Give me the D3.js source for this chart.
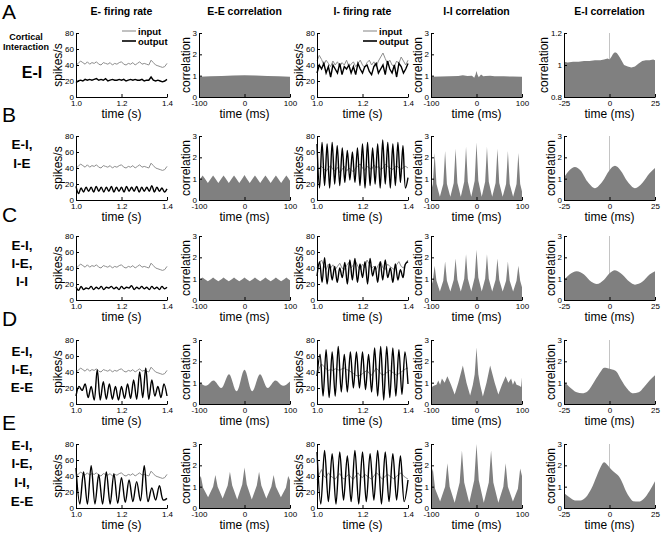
<!DOCTYPE html>
<html><head><meta charset="utf-8">
<script src="https://cdn.jsdelivr.net/npm/d3@7"></script>
<style>
body{margin:0;background:#fff;}
svg text{font-family:"Liberation Sans",Arial,sans-serif;}
</style></head><body>
<svg id="fig" width="661" height="533"></svg>
<script>
// ---------- labels & ticks ----------
const rowLetters = ["A","B","C","D","E"];
const colTitles = ["E- firing rate","E-E correlation","I- firing rate","I-I correlation","E-I correlation"];
const sideLabels = [["E-I"],["E-I,","I-E"],["E-I,","I-E,","I-I"],["E-I,","I-E,","E-E"],["E-I,","I-E,","I-I,","E-E"]];
const legendLabels = ["input","output"];
const rateTicks = [0,20,40,60,80];
const timeTicks = [1.0,1.2,1.4];
const corrTicks = [0,1,2,3];
const lagTicks = [-100,0,100];
const eiLagTicks = [-25,0,25];
const eiTicksA = [0.8,1,1.2];

// ---------- firing rates (spikes/s), evenly sampled over 1.0-1.4 s ----------
const eInput = [40,42,45,43,41,44,41,43,42,44,41,40,43,42,41,43,40,42,41,43,44,41,40,42,41,43,40,42,44,41,42,41,40,46,43,40,39,38,37,38,42];
const eOutA = [18,20,21,20,22,21,22,21,22,23,21,22,21,23,20,21,22,21,21,22,21,22,20,21,22,21,22,21,21,22,20,21,21,25,21,20,21,20,19,20,22];
const eOutB = [17,8,15,10,16,11,16,10,17,11,16,10,16,11,17,10,16,11,16,10,17,11,16,11,17,10,16,11,16,11,18,10,16,11,15,10,14];
const eOutC = [16,12,17,13,15,14,17,13,16,14,17,13,16,15,17,14,16,13,17,14,16,15,18,13,16,14,17,14,16,13,17,14,16,13,17,14,16];
const eOutD = [10,22,17,25,8,22,5,43,5,28,6,25,6,22,5,22,7,25,7,30,6,40,8,45,6,30,10,22,8,25,10];
const eOutE = [50,5,45,5,53,5,42,5,45,5,43,6,38,7,35,8,33,9,53,8,25,10,28,10,12];

const iInA = [45,52,47,40,46,42,38,45,40,44,38,43,40,46,38,41,44,38,42,46,40,37,43,46,40,44,38,45,50,55,48,42,46,40,38,45,42,50,45,40,46];
const iOutA = [30,40,35,42,30,38,25,40,35,30,42,28,38,35,40,30,38,28,42,35,30,38,40,32,28,38,42,30,35,40,28,45,35,30,40,25,42,38,30,35,42];
const iInB = [38,40,42,39,36,40,43,38,36,41,34,38,42,36,40,38,35,40,43,45,40,37,42,40,38,44,40,42,38,40,45,42,40,38,40,43,40,38,41,42,40];
const iOutB = [70,15,72,18,70,15,72,20,68,18,65,22,62,25,60,22,65,18,70,15,72,18,65,20,70,15,75,20,72,15,70,18,72,22,68,15,28];
const iInC = [40,46,50,43,38,45,40,44,38,42,46,40,38,43,47,40,44,48,42,38,45,40,50,45,40,42,38,44,48,40,38,45,42,40,38,44,48,42,40,46,50];
const iOutC = [30,48,22,53,20,45,25,42,22,40,28,47,20,50,25,52,22,45,28,48,20,52,30,42,22,48,25,50,28,40,22,45,25,38,28,45,48];
const iInD = [35,45,50,47,44,42,43,42,44,43,42,44,45,43,42,40,38,36,35,36,38,40,42,38,36,40,45,42,38,36,38,40,42,40,38,36,38,40,42,44,45];
const iOutD = [35,62,10,68,8,65,10,72,15,62,15,65,20,65,20,65,18,62,15,70,10,72,5,72,8,70,10,68,12,65,25];
const iInE = [35,42,48,40,38,44,40,38,36,40,43,38,36,40,42,38,36,40,44,40,38,42,40,38,36,40,44,42,38,36,40,42,40,38,36,40,42,44,40,38,36];
const iOutE = [70,5,72,8,68,5,70,10,65,8,72,5,70,8,68,10,72,5,70,8,68,10,65,8,35];

// ---------- correlations (lag in ms, value) ----------
const lagsA = [-100,-75,-50,-25,0,25,50,75,100];
const eeValA = [0.95,0.97,0.99,1.01,1.02,1.01,0.99,0.97,0.95];
const iiLagA = [-100,-80,-60,-40,-30,-20,-10,-5,-2,0,2,5,10,15,20,30,40,60,80,100];
const iiValA = [0.95,0.96,0.97,0.98,1.02,0.98,1.0,0.9,1.05,1.22,1.05,0.93,1.05,0.97,0.98,1.0,0.97,0.97,0.96,0.95];

const lags23 = [-100,-96,-92,-88,-80.5,-73,-69,-65,-57.5,-50,-46,-42,-34.5,-27,-23,-19,-11.5,-4,0,4,11.5,19,23,27,34.5,42,46,50,57.5,65,69,73,80.5,88,92,96,100];
const eeValB = [0.9,1.03,1.15,1.03,0.8,1.03,1.15,1.03,0.8,1.03,1.15,1.03,0.8,1.03,1.15,1.03,0.8,1.03,1.17,1.03,0.8,1.03,1.15,1.03,0.8,1.03,1.15,1.03,0.8,1.03,1.15,1.03,0.8,1.03,1.15,1.03,0.9];
const iiValB = [0.4,0.75,2.2,0.75,0.15,0.75,2.3,0.75,0.15,0.8,2.4,0.8,0.15,0.85,2.5,0.85,0.15,0.9,2.7,0.9,0.15,0.85,2.5,0.85,0.15,0.8,2.4,0.8,0.15,0.75,2.3,0.75,0.15,0.75,2.2,0.75,0.4];
const eeValC = [0.92,0.98,1.05,0.98,0.88,0.98,1.05,0.98,0.88,0.98,1.05,0.98,0.88,0.98,1.05,0.98,0.88,0.98,1.06,0.98,0.88,0.98,1.05,0.98,0.88,0.98,1.05,0.98,0.88,0.98,1.05,0.98,0.88,0.98,1.05,0.98,0.92];
const iiValC = [0.6,0.9,1.6,0.9,0.4,0.9,1.8,0.9,0.4,0.95,1.95,0.95,0.4,1.0,2.15,1.0,0.4,1.05,2.35,1.05,0.4,1.0,2.15,1.0,0.4,0.95,1.95,0.95,0.4,0.9,1.8,0.9,0.4,0.9,1.6,0.9,0.6];

const eeLagD = [-100,-85,-68,-51,-34,-17,0,17,34,51,68,85,100];
const eeValD = [1.05,0.85,1.1,0.75,1.4,0.6,1.6,0.6,1.4,0.75,1.1,0.85,1.05];
const iiLagD = [-100,-98,-94,-88,-84,-80,-76,-70,-64,-56,-48,-40,-30,-22,-14,-8,-4,-2,0,2,4,8,14,22,30,40,48,56,64,70,76,80,84,88,94,98,100];
const iiValD = [1.25,0.8,0.85,0.9,1.1,0.9,1.2,1.0,1.3,0.9,0.45,1.0,1.8,1.0,0.4,0.9,1.4,2.0,2.65,2.0,1.4,0.9,0.35,1.0,1.8,1.0,0.45,0.9,1.3,1.0,1.2,0.9,1.1,0.9,0.85,0.8,1.25];

const lags32 = [-100,-96,-91,-80,-69,-64,-59,-48,-37,-32,-27,-16,-5,0,5,16,27,32,37,48,59,64,69,80,91,96,100];
const eeValE = [1.3,1.5,0.95,0.5,1.0,1.55,1.0,0.45,1.05,1.7,1.05,0.4,1.1,1.9,1.1,0.4,1.05,1.7,1.05,0.45,1.0,1.55,1.0,0.5,0.95,1.5,1.3];
const iiValE = [1.5,1.85,0.9,0.3,1.0,2.1,1.0,0.25,1.2,2.7,1.2,0.25,1.3,3.0,1.3,0.25,1.2,2.7,1.2,0.25,1.0,2.1,1.0,0.3,0.9,1.85,1.5];

const eiLagA = [-25,-23,-20,-17,-14,-11,-8,-5,-3,-1,0,1,2,3,4,5,6,7,8,10,12,14,16,18,20,22,24,25];
const eiValA = [1.02,1.015,1.02,1.02,1.025,1.025,1.03,1.03,1.035,1.04,1.035,1.05,1.07,1.08,1.075,1.06,1.04,1.02,1.0,0.99,0.985,0.99,1.01,1.025,1.03,1.03,1.035,1.03];
const eiLagB = [-25,-22,-19,-16,-12,-8,-4,0,3,6,10,14,18,22,25];
const eiValB = [1.05,1.4,1.55,1.4,0.85,0.55,0.85,1.4,1.6,1.4,0.85,0.55,0.8,1.25,1.5];
const eiLagC = [-25,-22,-18,-14,-10,-7,-3,0,3,7,11,14,18,22,25];
const eiValC = [0.95,1.2,1.35,1.2,0.85,0.75,0.95,1.25,1.4,1.2,0.85,0.72,0.85,1.2,1.35];
const eiLagD = [-25,-22,-18,-15,-12,-8,-5,-3,-1,0,2,4,6,9,13,16,19,22,25];
const eiValD = [1.05,0.8,0.55,0.5,0.6,1.1,1.5,1.7,1.68,1.65,1.6,1.5,1.2,0.8,0.5,0.55,0.8,1.1,1.35];
const eiLagE = [-25,-22,-19,-16,-13,-10,-7,-5,-3,-2,-1,0,1,3,5,7,9,11,13,16,19,22,25];
const eiValE = [0.7,0.5,0.35,0.35,0.5,0.9,1.5,1.9,2.15,2.1,2.0,1.9,1.8,1.65,1.5,1.2,0.8,0.5,0.32,0.3,0.45,0.8,1.25];

// ---------- assembly ----------
const LIN = d3.curveLinear, MONO = d3.curveMonotoneX;
const rows = [
  {eOut:eOutA, iIn:iInA, iOut:iOutA, ee:[lagsA,eeValA,LIN], ii:[iiLagA,iiValA,LIN], ei:[eiLagA,eiValA,LIN], smooth:false},
  {eOut:eOutB, iIn:iInB, iOut:iOutB, ee:[lags23,eeValB,LIN], ii:[lags23,iiValB,LIN], ei:[eiLagB,eiValB,MONO], smooth:true},
  {eOut:eOutC, iIn:iInC, iOut:iOutC, ee:[lags23,eeValC,LIN], ii:[lags23,iiValC,LIN], ei:[eiLagC,eiValC,MONO], smooth:true},
  {eOut:eOutD, iIn:iInD, iOut:iOutD, ee:[eeLagD,eeValD,MONO], ii:[iiLagD,iiValD,LIN], ei:[eiLagD,eiValD,MONO], smooth:true},
  {eOut:eOutE, iIn:iInE, iOut:iOutE, ee:[lags32,eeValE,LIN], ii:[lags32,iiValE,LIN], ei:[eiLagE,eiValE,MONO], smooth:true}
];

const FONT = '"Liberation Sans",Arial,sans-serif';
const svg = d3.select("#fig");
const colX = [76,199,317,431,564], colW = 91;
const rowY = [33,136,236,340,444], rowH = 64;
const FILL = "#808080", INPUT = "#8e8e8e";
const TICKFS = 8, LABFS = 12;

function scales(r,c,xd,yd){
  return {
    x: d3.scaleLinear().domain(xd).range([colX[c], colX[c]+colW]),
    y: d3.scaleLinear().domain(yd).range([rowY[r]+rowH, rowY[r]])
  };
}
function axes(p, xt, yt, xf, yf, xl, yl, ylx){
  const gx = svg.append("g").attr("transform",`translate(0,${p.y.range()[0]})`)
    .call(d3.axisBottom(p.x).tickValues(xt).tickFormat(xf).tickSizeInner(-3).tickSizeOuter(0).tickPadding(3.5));
  const gy = svg.append("g").attr("transform",`translate(${p.x.range()[0]},0)`)
    .call(d3.axisLeft(p.y).tickValues(yt).tickFormat(yf).tickSizeInner(-3).tickSizeOuter(0).tickPadding(2));
  [gx,gy].forEach(g=>{ g.attr("font-size",TICKFS).attr("font-family",FONT);
    g.selectAll("path,line").attr("stroke","#000"); });
  const cx = (p.x.range()[0]+p.x.range()[1])/2;
  svg.append("text").attr("x",cx).attr("y",p.y.range()[0]+20.5).attr("text-anchor","middle")
    .attr("font-size",LABFS).text(xl);
  const cy = (p.y.range()[0]+p.y.range()[1])/2;
  svg.append("text").attr("transform",`translate(${ylx},${cy}) rotate(-90)`).attr("text-anchor","middle")
    .attr("font-size",LABFS).text(yl);
}
function lineOf(p, vals, domain, curve){
  const t = d3.scaleLinear().domain([0, vals.length-1]).range(domain);
  return d3.line().x((d,i)=>p.x(t(i))).y(d=>p.y(d)).curve(curve)(vals);
}
function areaOf(p, spec){
  const [lags, vals, curve] = spec;
  return d3.area().x((d,i)=>p.x(lags[i])).y0(p.y.range()[0]).y1(d=>p.y(d)).curve(curve)(vals);
}
const fmt1 = d3.format(".1f");
const fmtG = d=>String(d);

rows.forEach((R, r)=>{
  const curve = R.smooth ? d3.curveCatmullRom.alpha(0.5) : d3.curveLinear;
  // col 0: E rate
  let p = scales(r,0,[1.0,1.4],[0,80]);
  svg.append("path").attr("d", lineOf(p, eInput, [1.0,1.4], d3.curveLinear)).attr("fill","none").attr("stroke",INPUT).attr("stroke-width",1);
  svg.append("path").attr("d", lineOf(p, R.eOut, [1.0,1.4], curve)).attr("fill","none").attr("stroke","#000").attr("stroke-width",1.4);
  axes(p, timeTicks, rateTicks, fmt1, fmtG, "time (s)", "spikes/s", colX[0]-14);
  // col 1: E-E corr
  p = scales(r,1,[-100,100],[0,3]);
  svg.append("path").attr("d", areaOf(p, R.ee)).attr("fill",FILL);
  axes(p, lagTicks, corrTicks, fmtG, fmtG, "time (ms)", "correlation", colX[1]-9);
  // col 2: I rate
  p = scales(r,2,[1.0,1.4],[0,80]);
  svg.append("path").attr("d", lineOf(p, R.iIn, [1.0,1.4], d3.curveLinear)).attr("fill","none").attr("stroke",INPUT).attr("stroke-width",1);
  svg.append("path").attr("d", lineOf(p, R.iOut, [1.0,1.4], curve)).attr("fill","none").attr("stroke","#000").attr("stroke-width",1.4);
  axes(p, timeTicks, rateTicks, fmt1, fmtG, "time (s)", "spikes/s", colX[2]-14);
  // col 3: I-I corr
  p = scales(r,3,[-100,100],[0,3]);
  svg.append("path").attr("d", areaOf(p, R.ii)).attr("fill",FILL);
  axes(p, lagTicks, corrTicks, fmtG, fmtG, "time (ms)", "correlation", colX[3]-9);
  // col 4: E-I corr
  const yd = r===0 ? [0.8,1.2] : [0,3];
  p = scales(r,4,[-25,25],yd);
  svg.append("line").attr("x1",p.x(0)).attr("x2",p.x(0)).attr("y1",p.y.range()[1]).attr("y2",p.y.range()[0])
    .attr("stroke","#c4c4c4").attr("stroke-width",1);
  svg.append("path").attr("d", areaOf(p, R.ei)).attr("fill",FILL);
  axes(p, eiLagTicks, r===0?eiTicksA:corrTicks, fmtG, fmtG, "time (ms)", "correlation", colX[4]-(r===0?16:9));

  // row letter
  svg.append("text").attr("x",2).attr("y",rowY[r]-14).attr("font-size",21).text(rowLetters[r]);
});

// column titles
colTitles.forEach((t,c)=>{
  svg.append("text").attr("x",colX[c]+colW/2).attr("y",15).attr("text-anchor","middle")
    .attr("font-size",10.5).attr("font-weight","bold").text(t);
});

// side labels
svg.append("text").attr("x",26).attr("y",40).attr("text-anchor","middle").attr("font-size",9).attr("font-weight","bold").text("Cortical");
svg.append("text").attr("x",26).attr("y",50).attr("text-anchor","middle").attr("font-size",9).attr("font-weight","bold").text("Interaction");
const sideBase = [[78],[149,168],[250,268,286],[356,374,392],[450,468,487,506]];
sideLabels.forEach((lines,r)=>{
  lines.forEach((s,k)=>{
    svg.append("text").attr("x", r===0?32:22).attr("y",sideBase[r][k]).attr("text-anchor","middle")
      .attr("font-size", r===0?16:13.5).attr("font-weight","bold").text(s);
  });
});

// legends (row A, rate columns)
[0,2].forEach(c=>{
  const xr = colX[c]+colW+2;
  [INPUT,"#000"].forEach((col,k)=>{
    const yy = 31 + k*10;
    svg.append("line").attr("x1",xr-47).attr("x2",xr-33).attr("y1",yy).attr("y2",yy)
      .attr("stroke",col).attr("stroke-width",k?1.6:1.1);
    svg.append("text").attr("x",xr-31).attr("y",yy+3.5).attr("font-size",9.5).attr("font-weight","bold").text(legendLabels[k]);
  });
});
</script></body></html>
